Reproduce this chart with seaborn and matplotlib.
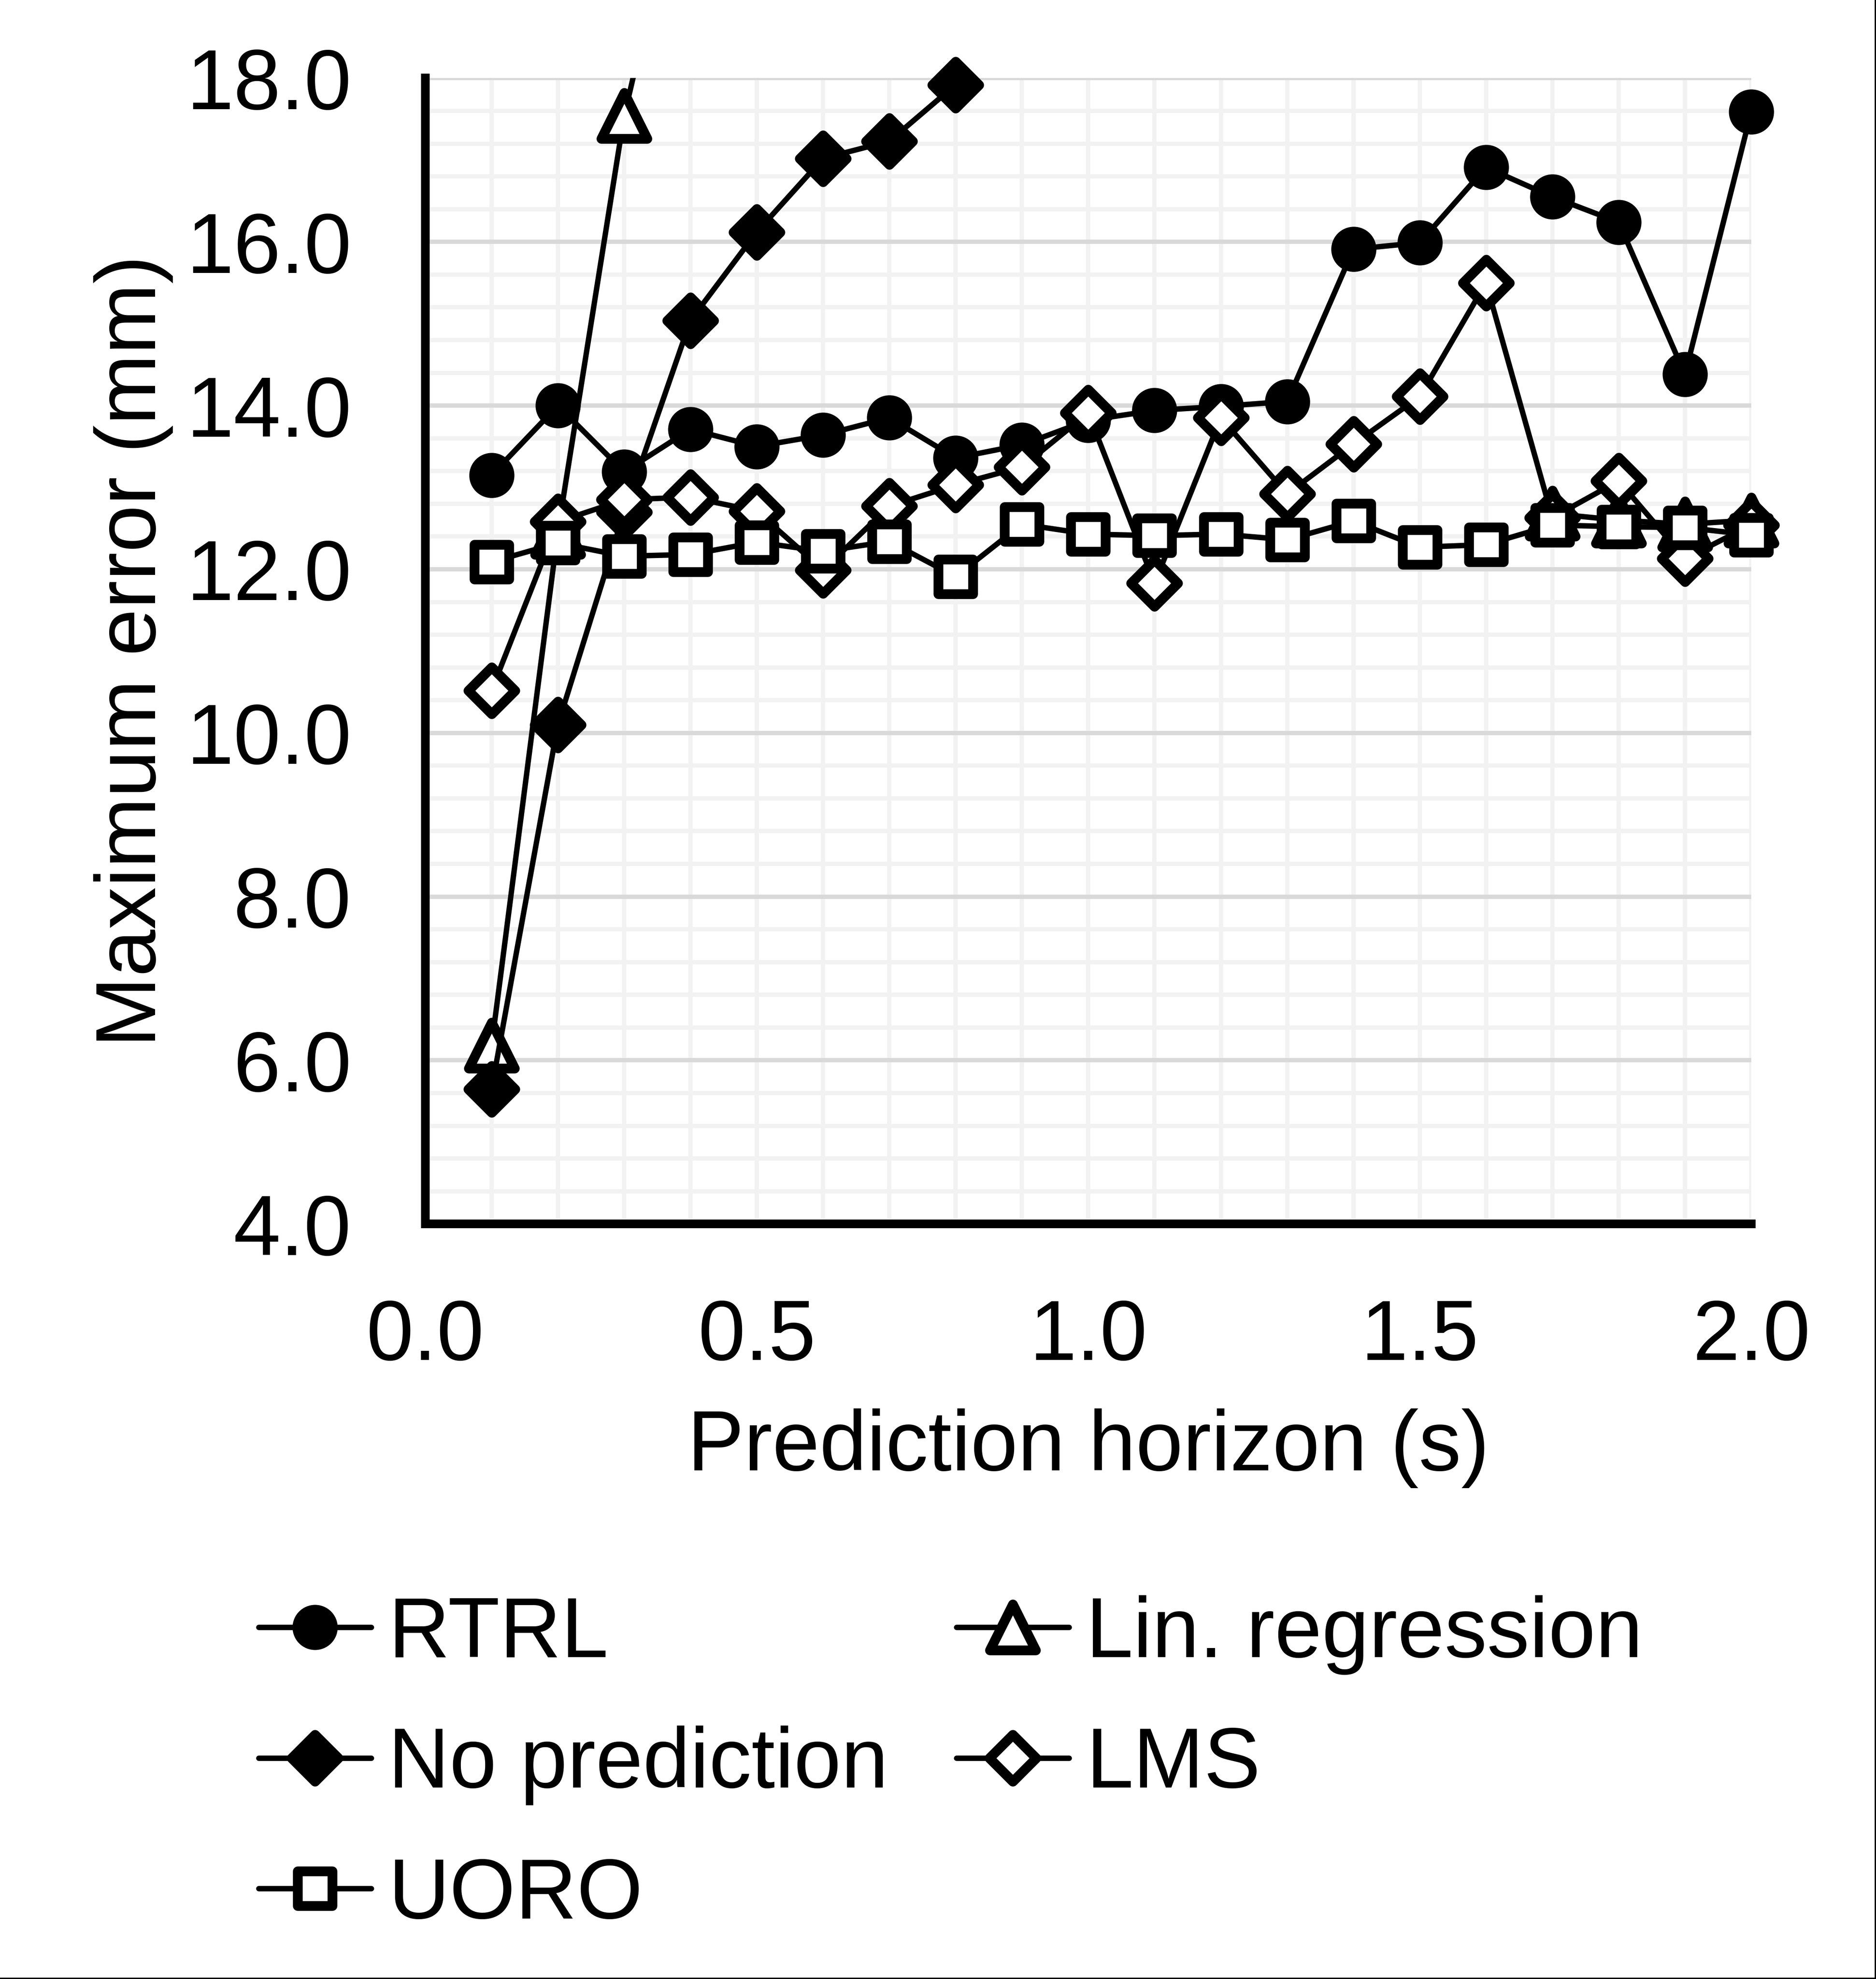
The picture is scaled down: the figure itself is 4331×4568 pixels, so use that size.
import numpy as np
import pandas as pd
import matplotlib
matplotlib.use("Agg")
import matplotlib.pyplot as plt
import seaborn as sns
from matplotlib.markers import MarkerStyle
from matplotlib.lines import Line2D
from matplotlib.ticker import MultipleLocator, FormatStrFormatter

# ---------------- data ----------------
horizon = [0.1, 0.2, 0.3, 0.4, 0.5, 0.6, 0.7, 0.8, 0.9, 1.0,
           1.1, 1.2, 1.3, 1.4, 1.5, 1.6, 1.7, 1.8, 1.9, 2.0]
nan = np.nan
rtrl = [13.15, 14.00, 13.19, 13.71, 13.50, 13.64, 13.85, 13.36, 13.52, 13.82,
        13.94, 13.99, 14.05, 15.91, 15.99, 16.91, 16.55, 16.24, 14.38, 17.59]
lin_reg = [6.18, 12.46, 17.54, 21.0, nan, nan, nan, nan, nan, nan,
           nan, nan, nan, nan, nan, nan, 12.68, 12.60, 12.55, 12.60]
no_pred = [5.65, 10.10, 12.70, 15.04, 16.12, 17.02, 17.23, 17.92, nan, nan,
           nan, nan, nan, nan, nan, nan, nan, nan, nan, nan]
lms = [10.52, 12.58, 12.85, 12.88, 12.71, 11.99, 12.77, 13.03, 13.25, 13.91,
       11.83, 13.85, 12.92, 13.53, 14.11, 15.50, 12.63, 13.08, 12.13, 12.54]
uoro = [12.09, 12.32, 12.16, 12.18, 12.33, 12.22, 12.34, 11.91, 12.55, 12.43,
        12.41, 12.43, 12.36, 12.59, 12.27, 12.30, 12.54, 12.52, 12.51, 12.42]

series_names = ["RTRL", "Lin. regression", "No prediction", "LMS", "UORO"]
series_values = [rtrl, lin_reg, no_pred, lms, uoro]
xlabel = "Prediction horizon (s)"
ylabel = "Maximum error (mm)"
ymin, ymax = 4.0, 18.0
xmin, xmax = 0.0, 2.0

# ---------------- style ----------------
sns.set_style("white")
plt.rcParams["font.family"] = ["Liberation Sans", "DejaVu Sans"]
plt.rcParams["text.color"] = "black"
plt.rcParams["axes.labelcolor"] = "black"
FS = 47

LW = 3.0
MEW = 5.4
styles = {
    "RTRL": dict(marker="o", ms=19.6, fc="black"),
    "Lin. regression": dict(marker="^", ms=25.5, fc="white"),
    "No prediction": dict(marker="D", ms=18.3, fc="black"),
    "LMS": dict(marker="D", ms=18.3, fc="white"),
    "UORO": dict(marker="s", ms=19.4, fc="white"),
}

fig = plt.figure(figsize=(4331 / 300, 4568 / 300), dpi=300)
ax = fig.add_axes([0.2267, 0.3815, 0.7068, 0.579])

df = pd.DataFrame({"x": horizon})
for name, vals in zip(series_names, series_values):
    df[name] = vals

for i, name in enumerate(series_names):
    st = styles[name]
    z = 3 + i
    y = df[name].to_numpy()
    x = df["x"].to_numpy()
    finite = np.isfinite(y)
    # split into contiguous segments (gaps break the line)
    seg_id = np.cumsum(~finite)
    for sid in np.unique(seg_id[finite]):
        m = finite & (seg_id == sid)
        if m.sum() >= 2:
            sns.lineplot(x=x[m], y=y[m], ax=ax, color="black", linewidth=LW,
                         estimator=None, sort=False, zorder=z, legend=False)
    inr = finite & (y >= ymin) & (y <= ymax)
    mk = MarkerStyle(st["marker"], joinstyle="round")
    sns.lineplot(x=x[inr], y=y[inr], ax=ax, color="black", linestyle="none",
                 marker=mk, markersize=st["ms"], markerfacecolor=st["fc"],
                 markeredgecolor="black", markeredgewidth=MEW,
                 estimator=None, sort=False, zorder=z + 0.5, clip_on=False,
                 legend=False)

ax.set_xlim(xmin, xmax)
ax.set_ylim(ymin, ymax)
ax.xaxis.set_major_locator(MultipleLocator(0.5))
ax.xaxis.set_minor_locator(MultipleLocator(0.1))
ax.yaxis.set_major_locator(MultipleLocator(2.0))
ax.yaxis.set_minor_locator(MultipleLocator(0.4))
ax.xaxis.set_major_formatter(FormatStrFormatter("%.1f"))
ax.yaxis.set_major_formatter(FormatStrFormatter("%.1f"))
ax.tick_params(which="both", length=0, labelsize=FS, colors="black")
ax.tick_params(axis="both", which="major", pad=41)

ax.set_axisbelow(True)
ax.grid(which="major", axis="y", color="#d9d9d9", linewidth=2.4)
ax.grid(which="minor", axis="y", color="#f2f2f2", linewidth=2.4)
ax.grid(which="both", axis="x", color="#f2f2f2", linewidth=2.4)

for s in ["top", "right"]:
    ax.spines[s].set_visible(False)
for s in ["left", "bottom"]:
    ax.spines[s].set_color("black")
    ax.spines[s].set_linewidth(4.8)

ax.set_xlabel(xlabel, fontsize=FS, color="black")
ax.set_ylabel(ylabel, fontsize=FS, color="black")
ax.xaxis.set_label_coords(0.5, -0.161)
ax.yaxis.set_label_coords(-0.19, 0.5)

# legend (column-major fill reproduces row-wise reading order)
order = ["RTRL", "No prediction", "UORO", "Lin. regression", "LMS"]
handles = []
for name in order:
    st = styles[name]
    handles.append(Line2D([], [], color="black", linewidth=LW,
                          marker=MarkerStyle(st["marker"], joinstyle="round"),
                          markersize=st["ms"], markerfacecolor=st["fc"],
                          markeredgecolor="black", markeredgewidth=MEW))
leg = fig.legend(handles, order, loc="upper left", bbox_to_anchor=(0.1378, 0.194),
                 ncol=2, frameon=False, fontsize=FS, borderpad=0, borderaxespad=0,
                 handlelength=1.33, handletextpad=0.2, columnspacing=0.8,
                 labelspacing=0.6)
for t in leg.get_texts():
    t.set_color("black")

# thin frame on right and bottom edge of the picture
fig.add_artist(Line2D([0.9996, 0.9996], [0, 1], transform=fig.transFigure,
                      color="black", linewidth=0.8))
fig.add_artist(Line2D([0, 1], [0.0004, 0.0004], transform=fig.transFigure,
                      color="black", linewidth=0.8))

fig.savefig("out.png", dpi=300)
